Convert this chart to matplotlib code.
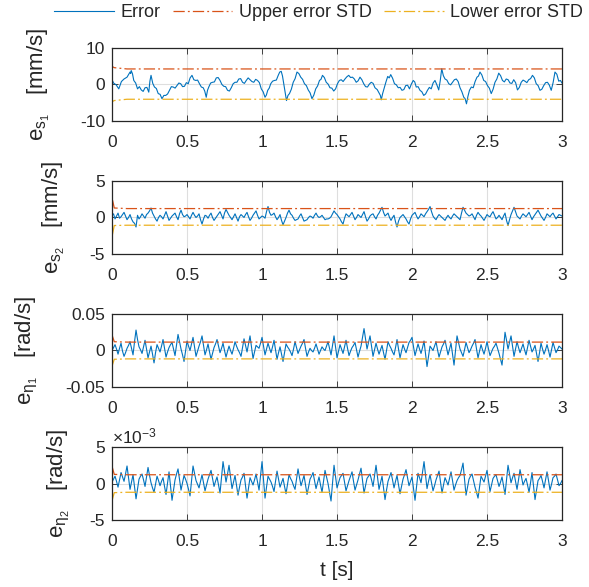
import numpy as np
import matplotlib
matplotlib.use("Agg")
import matplotlib.pyplot as plt
from matplotlib.ticker import FuncFormatter

plt.rcParams["font.family"] = ["Liberation Sans", "DejaVu Sans"]
plt.rcParams["axes.unicode_minus"] = False
plt.rcParams["mathtext.fontset"] = "custom"
plt.rcParams["mathtext.rm"] = "Liberation Sans"
plt.rcParams["mathtext.it"] = "Liberation Sans:italic"
plt.rcParams["mathtext.sf"] = "Liberation Sans"

# ---- data ----
# panel 1: e_s1 [mm/s], slow wandering error
t_s1 = [0.0, 0.01, 0.045, 0.08, 0.12, 0.128, 0.145, 0.17, 0.195, 0.22, 0.245, 0.26, 0.283,
        0.308, 0.333, 0.358, 0.383, 0.408, 0.433, 0.458, 0.483, 0.508, 0.533, 0.558, 0.583,
        0.608, 0.628, 0.645, 0.67, 0.695, 0.72, 0.745, 0.77, 0.795, 0.82, 0.845, 0.87, 0.895,
        0.92, 0.945, 0.97, 0.995, 1.02, 1.038, 1.058, 1.083, 1.108, 1.128, 1.145, 1.163, 1.183,
        1.208, 1.233, 1.258, 1.283, 1.308, 1.333, 1.358, 1.383, 1.403, 1.428, 1.453, 1.478,
        1.503, 1.528, 1.553, 1.578, 1.603, 1.628, 1.653, 1.678, 1.703, 1.728, 1.753, 1.783,
        1.795, 1.813, 1.838, 1.858, 1.883, 1.908, 1.933, 1.958, 1.983, 2.008, 2.028, 2.053,
        2.078, 2.103, 2.128, 2.153, 2.178, 2.198, 2.22, 2.245, 2.27, 2.295, 2.32, 2.345, 2.363,
        2.383, 2.408, 2.433, 2.453, 2.478, 2.503, 2.528, 2.553, 2.578, 2.603, 2.628, 2.653,
        2.678, 2.703, 2.728, 2.753, 2.778, 2.803, 2.828, 2.853, 2.878, 2.903, 2.928, 2.953,
        2.978, 3.0]
e_s1 = [0.0, 0.4, -1.2, 1.5, 3.4, 3.8, 1.1, -1.2, -1.5, -0.9, -2.1, 2.5, -0.7,
        -2.5, -3.9, -3.0, -1.6, -0.7, -0.3, 0.2, -0.5, 0.2, 2.5, 1.1, 0.2,
        -0.9, -3.5, -0.7, 0.6, 1.8, 1.1, -0.5, -1.6, -0.9, 0.6, 1.5, 0.6, 1.1,
        1.3, 0.6, 1.1, -1.2, -3.5, -1.6, 0.2, 1.1, 2.5, 3.6, 0.2, -4.4, -2.5,
        0.6, 3.4, 2.0, 0.2, -1.5, -3.9, -1.2, 1.1, 2.5, 0.6, -0.9, -1.8,
        0.2, 1.3, 1.5, 2.5, 2.0, 0.6, 2.0, 0.2, -0.7, 0.6, -0.9, -2.5,
        -4.2, -1.2, 2.2, 2.7, 0.2, -0.9, -1.6, -0.3, -1.2, 1.1, -0.7, -1.6,
        -3.0, -1.6, -1.2, 1.1, -1.5, 4.3, 1.5, 0.2, 0.6, 1.5, -0.9, -3.5, -5.3,
        -1.6, -0.9, 2.0, 3.4, 1.1, -0.3, -2.5, 0.6, 3.1, 1.1, 1.5, 0.4,
        1.3, -1.5, 0.6, 0.9, 1.3, 2.5, 0.2, -1.6, -0.3, 0.6, -1.6, 3.4,
        0.9, 0.4]
# in-between samples of e_s1 (one between each pair above)
e_s1_mid = [0.9, -0.1, 0.8, 2.0, 3.0, 2.9, 0.4, -0.6, -1.9, -0.8,
            0.9, 0.3, -1.1, -2.7, -3.0, -2.6, -0.6, -1.0, 0.4, -0.6,
            0.5, 1.8, 1.3, 1.2, -0.7, -1.8, -1.6, 0.4, 0.7, 1.9,
            0.0, -0.6, -1.8, 0.2, 0.6, 1.6, 0.3, 1.8, 0.8, 1.4,
            0.5, -2.0, -2.9, -1.0, 0.9, 1.2, 3.4, 2.3, -2.0, -3.0,
            -1.3, 1.6, 3.0, 1.4, -0.3, -2.3, -2.9, -0.4, 1.4, 1.9,
            0.1, -1.0, -1.2, 1.1, 0.8, 2.1, 1.9, 1.5, 1.0, 1.3,
            -0.6, 0.1, 0.3, -1.4, -3.0, -2.5, 0.6, 1.8, 1.7, -0.1,
            -0.8, -1.4, -0.2, 0.1, 0.7, -0.6, -2.0, -2.6, -0.8, 0.4,
            -0.1, 1.0, 2.4, 1.2, -0.1, 1.3, 0.8, -2.0, -3.9, -3.2,
            -0.7, 0.8, 2.3, 2.6, 0.8, -1.0, -1.3, 1.5, 2.4, 0.7,
            1.3, 0.3, 0.5, -0.8, 1.2, 0.5, 1.6, 1.8, -0.3, -1.3,
            0.5, -0.2, 0.5, 2.8, 1.1]

# panels 2-4: samples every 0.02 s plus the samples in between
e_s2 = [0.3, -0.2, 0.6, 0.1, 0.7, -0.3, 0.4, -0.6, -1.3, -0.2,
        0.5, -0.1, 0.6, 1.3, 0.2, -0.5, 0.3, -0.2, 0.8, -0.4,
        0.2, 0.6, -0.3, 1.0, 0.1, 0.4, -0.2, 0.7, 0.0, 0.5,
        -0.9, 0.3, -0.1, 0.6, -0.4, 0.2, 0.8, -0.2, 1.1, 0.3,
        -0.3, 0.5, -0.5, 0.4, 0.0, 0.7, -0.4, 0.3, 0.9, -0.2,
        0.2, -0.1, 1.5, 0.3, 0.6, -0.3, 0.4, -1.0, 0.0, 1.0,
        0.3, -0.4, -0.2, 0.5, -0.5, -0.3, 0.2, -0.1, 0.6, 0.0,
        0.3, -0.3, -0.2, 0.1, 0.9, 0.4, -0.2, -0.9, 0.5, 0.1,
        0.7, -0.3, 0.4, 0.0, 0.8, -0.5, 0.2, 0.5, -0.2, 0.6,
        1.4, 0.2, 0.6, -0.4, 0.3, -1.3, 0.0, 0.4, -0.2, -0.9,
        0.3, 0.7, -0.2, 0.5, 0.1, 0.8, 1.5, 0.2, -0.3, 0.4,
        0.0, -0.4, 0.3, -0.2, 0.5, 0.1, -0.3, 1.4, 0.6, 0.2,
        0.5, -0.3, 0.7, 0.2, -0.4, 0.4, 0.1, 0.8, -0.2, 0.3,
        -0.3, 0.6, -1.1, 0.4, 1.4, 0.2, -0.2, 0.5, 0.1, 0.7,
        -0.3, 0.4, 1.0, 0.2, -0.4, 0.5, 0.1, 0.6, -0.2, 0.4, 0.2]
e_s2_mid = [0.5, 0.2, -0.1, 0.4, 0.2, 0.0, -0.2, -0.8, 0.3, 0.1,
            0.2, 0.4, 0.9, 0.6, -0.2, 0.0, 0.1, 0.3, 0.2, -0.1,
            0.4, 0.1, 0.5, 0.4, 0.2, 0.1, 0.3, 0.3, 0.2, -0.3,
            -0.2, 0.2, 0.3, 0.0, -0.1, 0.5, 0.3, 0.6, 0.7, 0.0,
            0.1, 0.0, 0.1, 0.2, 0.4, 0.1, -0.1, 0.6, 0.3, 0.0,
            0.1, 0.8, 0.7, 0.4, 0.1, 0.0, -0.4, -0.5, 0.6, 0.5,
            -0.1, -0.3, 0.2, 0.0, -0.4, 0.0, 0.1, 0.3, 0.2, 0.1,
            0.0, -0.2, -0.1, 0.5, 0.6, 0.1, -0.6, -0.1, 0.3, 0.4,
            0.2, 0.0, 0.2, 0.4, 0.1, -0.2, 0.4, 0.1, 0.3, 1.0,
            0.7, 0.4, 0.0, 0.0, -0.6, -0.5, 0.2, 0.1, -0.6, -0.2,
            0.5, 0.2, 0.1, 0.3, 0.5, 1.1, 0.8, -0.1, 0.1, 0.2,
            -0.2, 0.0, 0.0, 0.2, 0.3, -0.1, 0.6, 1.0, 0.4, 0.3,
            0.1, 0.3, 0.4, -0.1, 0.0, 0.2, 0.5, 0.3, 0.0, 0.0,
            0.2, -0.4, -0.3, 0.9, 0.8, 0.0, 0.2, 0.3, 0.4, 0.2,
            0.1, 0.7, 0.6, -0.1, 0.0, 0.3, 0.4, 0.2, 0.1, 0.3]

# e_eta1 in 1e-3 rad/s
e_eta1 = [0, 8, -5, 10, -8, 3, 12, -6, 28, 5,
          -4, 14, -10, 6, -17, 8, -2, 15, -9, 4,
          11, -7, 22, 2, -15, 13, 0, 18, -8, 6,
          20, -6, 9, -12, 4, 15, -3, 10, -9, 6,
          -5, 12, 1, -8, 16, -2, 20, -11, 7, 3,
          18, -6, 10, -3, 14, -12, 5, -15, 9, 2,
          -7, 12, -4, 6, 15, -8, 3, -2, 9, -5,
          5, 0, 12, -6, 20, -10, 8, -4, 14, -7,
          4, 11, -9, 6, 30, 2, 20, -8, 10, -5,
          7, -12, 12, 3, -6, 15, -10, 8, -3, 11,
          18, -7, 9, -4, 13, -22, 6, 0, 12, -9,
          5, 14, -6, 10, -20, 20, 2, -8, 11, -3,
          6, 15, -10, 8, -5, 12, -7, 3, 10, -4,
          -20, 25, 2, 20, -8, 12, -3, 9, -6, 14,
          -2, 7, -15, 10, -5, 8, -9, 11, -3, 6, 2]
e_eta1_mid = [4, 2, 3, -1, -3, 7, 3, 12, 15, 1,
              5, 2, -2, -5, -3, 3, 6, 3, -2, 8,
              2, 7, 12, -6, -1, 6, 9, 5, -1, 12,
              7, 1, -2, -4, 9, 6, 3, 0, -1, 0,
              3, 6, -3, 4, 7, 9, 4, -2, 5, 10,
              6, 2, 3, 5, 1, -3, -5, -3, 5, -2,
              2, 4, 1, 10, 3, -2, 0, 3, 2, 0,
              2, 6, 3, 7, 5, -1, 2, 5, 3, -1,
              7, 1, -1, 18, 16, 11, 6, 1, 2, 1,
              -3, 0, 7, -2, 4, 2, -1, 2, 4, 14,
              5, 1, 2, 4, -5, -8, 3, 6, 1, -2,
              9, 4, 2, -5, 0, 11, -3, 1, 4, 1,
              10, 2, -1, 1, 3, 2, -2, 6, 3, -12,
              2, 14, 11, 6, 2, 4, 3, 1, 4, 6,
              2, -4, -3, 2, 1, 0, 1, 4, 1, 4]

# e_eta2 in 1e-3 rad/s
e_eta2 = [0.2, 1.0, -0.5, 1.5, 0.3, 2.4, -0.8, 1.2, -2.1, 0.6,
          1.3, -0.4, 2.2, 0.1, -1.2, 1.0, -0.3, 0.8, -1.5, 1.6,
          -2.3, 0.5, 2.0, -0.9, 1.1, 0.0, -1.7, 2.4, 0.4, -0.6,
          1.2, -1.0, 0.6, 1.8, -0.4, 0.9, -1.3, 3.0, 0.2, 2.5,
          -0.7, 1.1, -1.6, 0.5, 1.4, -2.0, 0.8, -0.2, 1.3, -0.9,
          3.0, -2.0, 1.0, 0.2, -1.1, 1.7, -0.5, 0.7, -1.4, 1.2,
          0.3, -0.8, 2.0, -0.3, 1.1, -1.5, 0.6, 1.5, -0.7, 0.9,
          -1.2, 1.8, 0.0, -2.4, 2.5, -0.6, 0.8, 1.4, -1.0, 0.4,
          1.6, -0.9, 0.5, 2.1, -1.3, 0.7, 1.3, -0.4, 2.5, -0.8,
          1.0, -2.2, 0.3, 1.5, -0.6, 1.1, -1.4, 0.6, 1.9, -0.3,
          0.9, -2.3, 1.4, 0.1, 3.0, -0.7, 1.2, -1.0, 0.5, 1.7,
          -1.3, 0.8, -0.2, 1.6, -0.9, 0.4, 1.1, 2.8, -1.6, 0.6,
          1.3, -0.5, -2.0, 1.0, 0.2, 1.8, -1.1, 0.7, 1.2, -0.4,
          0.9, -1.5, 2.5, 0.1, 1.4, -0.8, 1.9, -0.2, 0.7, -1.2,
          1.5, -2.2, 0.4, 1.1, -0.6, 1.6, -0.9, 0.8, 1.3, -0.3, 0.4]
e_eta2_mid = [0.6, 0.3, 0.5, 0.9, 1.3, 0.8, 0.2, -0.5, -0.7, 1.0,
              0.5, 0.9, 1.1, -0.6, -0.1, 0.4, 0.3, -0.4, 0.1, -0.4,
              -0.9, 1.3, 0.5, 0.1, 0.6, -0.8, 0.4, 1.4, -0.1, 0.3,
              0.1, -0.2, 1.2, 0.7, 0.3, -0.2, 0.9, 1.6, 1.3, 0.9,
              0.2, -0.3, -0.5, 0.9, -0.3, -0.6, 0.3, 0.5, 0.2, 1.1,
              0.5, -0.5, 0.6, -0.4, 0.3, 0.6, 0.1, -0.4, -0.1, 0.7,
              -0.3, 0.6, 0.8, 0.4, -0.2, -0.5, 1.0, 0.4, 0.1, -0.2,
              0.3, 0.9, -1.2, 0.1, 1.0, 0.1, 1.1, 0.2, -0.3, 1.0,
              0.3, -0.2, 1.3, 0.4, -0.3, 1.0, 0.5, 1.0, 0.8, 0.1,
              -0.6, -0.9, 0.9, 0.5, 0.3, -0.2, -0.4, 1.2, 0.8, 0.3,
              -0.7, -0.4, 0.8, 1.5, 1.2, 0.3, 0.1, -0.3, 1.1, 0.2,
              -0.2, 0.3, 0.7, 0.4, -0.2, 0.8, 1.9, 0.6, -0.5, 1.0,
              0.4, -1.2, -0.5, 0.6, 1.0, 0.4, -0.2, 1.0, 0.4, 0.2,
              -0.3, 0.5, 1.3, 0.8, 0.3, 0.5, 0.9, 0.3, -0.2, 0.1,
              -0.4, -0.9, 0.7, 0.3, 0.5, 0.4, -0.1, 1.0, 0.5, 0.0]

# running STD bounds
t_std = [0.0, 0.002, 0.015, 0.1, 3.0]
up_s1 = [6.8, 4.9, 4.6, 4.25, 4.25]
lo_s1 = [-6.8, -4.7, -4.4, -4.05, -4.05]
up_s2 = [5.0, 2.5, 1.3, 1.22, 1.22]
lo_s2 = [-5.0, -2.4, -1.1, -1.06, -1.06]
up_eta1 = [50, 20, 12, 11.5, 11.5]
lo_eta1 = [-50, -20, -12, -11.5, -11.5]
up_eta2 = [5.0, 2.2, 1.25, 1.2, 1.2]
lo_eta2 = [-5.0, -2.2, -1.25, -1.2, -1.2]

ylabels = [r"$\mathregular{e_{s_1}}$   [mm/s]", r"$\mathregular{e_{s_2}}$   [mm/s]",
           r"$\mathregular{e_{\eta_1}}$   [rad/s]", r"$\mathregular{e_{\eta_2}}$   [rad/s]"]
ylabel_pads = [20, 16.5, 18, 13]

C_ERR = "#0072BD"
C_UP = "#D95319"
C_LO = "#EDB120"
AX_C = "#262626"
DASHDOT = (0, (9, 2.5, 1.5, 2.5))


def merge(a, mid):
    out = []
    for x, m in zip(a[:-1], mid):
        out += [x, m]
    out.append(a[-1])
    return np.array(out, dtype=float)


t_s1_mid = [(a + b) / 2 for a, b in zip(t_s1[:-1], t_s1[1:])]
t_fine = merge(list(np.linspace(0, 3, len(e_s2))), list(np.linspace(0.01, 2.99, len(e_s2_mid))))

fig = plt.figure(figsize=(5.89, 5.87), dpi=100)
left, width, height = 0.1902, 0.764, 0.1244
bottoms = [0.7939, 0.5673, 0.3407, 0.1141]

panels = [
    (merge(t_s1, t_s1_mid), merge(e_s1, e_s1_mid), np.array(up_s1), np.array(lo_s1),
     (-10, 10), [-10, 0, 10], 1.0),
    (t_fine, merge(e_s2, e_s2_mid), np.array(up_s2), np.array(lo_s2),
     (-5, 5), [-5, 0, 5], 1.0),
    (t_fine, merge(e_eta1, e_eta1_mid) * 1e-3, np.array(up_eta1) * 1e-3, np.array(lo_eta1) * 1e-3,
     (-0.05, 0.05), [-0.05, 0, 0.05], 1.0),
    (t_fine, merge(e_eta2, e_eta2_mid) * 1e-3, np.array(up_eta2) * 1e-3, np.array(lo_eta2) * 1e-3,
     (-5e-3, 5e-3), [-5e-3, 0, 5e-3], 1e3),
]

axes = []
for i, (tt, err, up, lo, ylim, yt, scale) in enumerate(panels):
    ax = fig.add_axes([left, bottoms[i], width, height])
    l1, = ax.plot(tt, err, color=C_ERR, lw=0.8, label="Error")
    l2, = ax.plot(t_std, up, color=C_UP, lw=0.9, ls=DASHDOT, label="Upper error STD")
    l3, = ax.plot(t_std, lo, color=C_LO, lw=0.9, ls=DASHDOT, label="Lower error STD")
    ax.set_xlim(0, 3)
    ax.set_ylim(*ylim)
    ax.set_xticks([0, 0.5, 1, 1.5, 2, 2.5, 3])
    ax.set_yticks(yt)
    ax.xaxis.set_major_formatter(FuncFormatter(lambda v, p: "%g" % v))
    ax.yaxis.set_major_formatter(FuncFormatter(lambda v, p, s=scale: "%g" % round(v * s, 6)))
    ax.grid(True, color="#dedede", lw=0.8)
    ax.tick_params(direction="in", top=True, right=True, length=4, width=0.6,
                   color=AX_C, labelcolor=AX_C, labelsize=12.5, pad=5)
    ax.tick_params(axis="x", pad=10)
    for sp in ax.spines.values():
        sp.set_color(AX_C)
        sp.set_linewidth(0.9)
    ax.set_ylabel(ylabels[i], fontsize=16, color=AX_C, labelpad=ylabel_pads[i])
    axes.append(ax)
    if i == 0:
        handles = [l1, l2, l3]

axes[3].text(0.0, 1.01, r"$\times$10$^{\mathregular{-3}}$", transform=axes[3].transAxes,
             ha="left", va="bottom", fontsize=12.5, color=AX_C)
axes[3].set_xlabel("t [s]", fontsize=15, color=AX_C, labelpad=9)

fig.legend(handles=handles, loc="center", bbox_to_anchor=(0.541, 0.978), ncol=3,
           frameon=False, fontsize=13, handlelength=3.3, handletextpad=0.35,
           columnspacing=0.7, labelcolor=AX_C)

fig.savefig("out.png", dpi=100)
